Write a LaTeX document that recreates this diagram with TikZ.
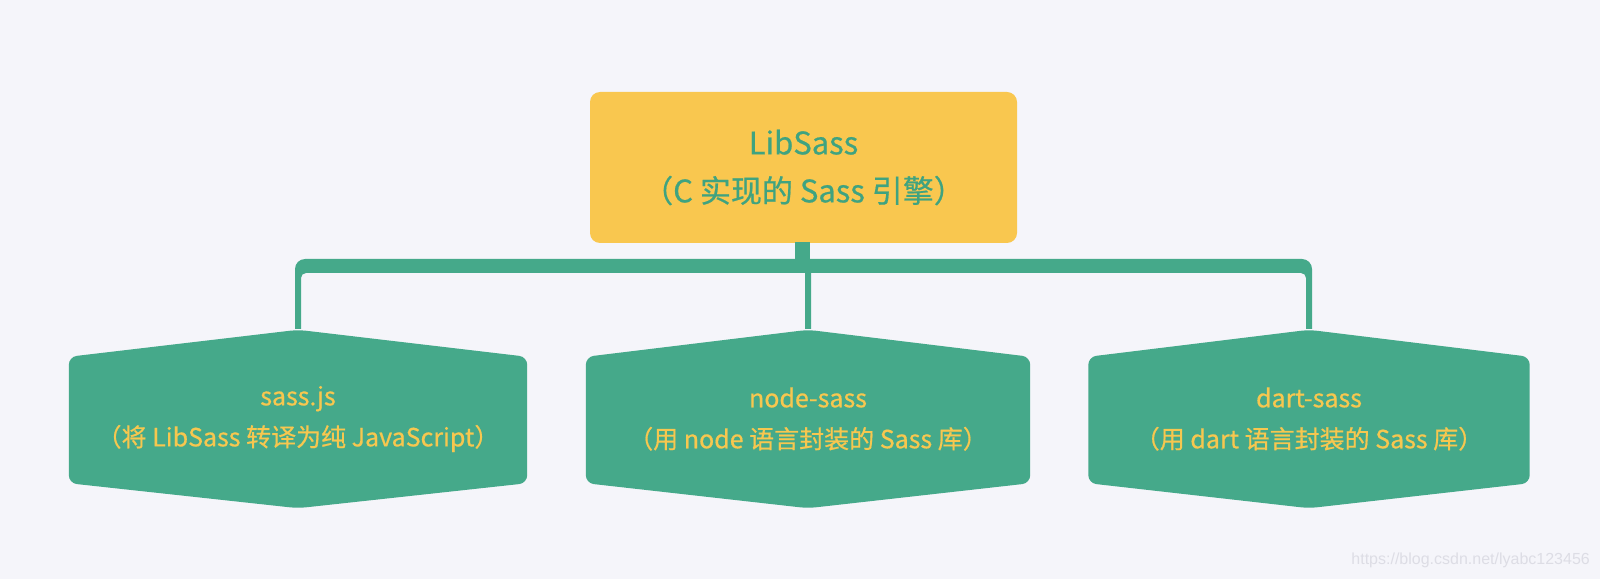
\documentclass[tikz,border=0pt]{standalone}
\usepackage{fontspec}
\setmainfont[FakeBold=0.6]{Noto Sans CJK SC}
\newfontfamily\wmfont{Liberation Sans}
\usetikzlibrary{calc,backgrounds}
\definecolor{bgc}{HTML}{F5F5FA}
\definecolor{gold}{HTML}{F9C74F}
\definecolor{mygreen}{HTML}{45A98A}
\definecolor{topText}{HTML}{3FA380}
\definecolor{hexText}{HTML}{F7C74F}
\definecolor{wm}{HTML}{DDDDE5}
\begin{document}
\begin{tikzpicture}[x=1pt,y=1pt,
  topbox/.style={fill=gold, rounded corners=10pt, minimum width=427pt, minimum height=151pt, inner sep=0pt, align=center, text=topText, font=\fontsize{31}{48}\selectfont},
  hexnode/.style={minimum height=178pt, inner sep=0pt, align=center, text=hexText, font=\fontsize{25}{41}\selectfont},
  hexshape/.style={fill=mygreen, rounded corners=8pt},
  conn/.style={fill=mygreen}]
\useasboundingbox (0,0) rectangle (1600,579);
\node[topbox] (lib) at (803.5,411.5) {LibSass\\（C 实现的 Sass 引擎）};
\node[hexnode, minimum width=458pt] (h1) at (298,160) {sass.js\\（将 LibSass 转译为纯 JavaScript）};
\node[hexnode, minimum width=444pt] (h2) at (808,160) {node-sass\\（用 node 语言封装的 Sass 库）};
\node[hexnode, minimum width=441pt] (h3) at (1309,160) {dart-sass\\（用 dart 语言封装的 Sass 库）};
\begin{scope}[on background layer]
  \fill[bgc] (0,0) rectangle (1600,579);
  \foreach \h in {h1,h2,h3}{
    \fill[hexshape] (\h.north) -- ($(\h.north east)+(0,-27)$) -- ($(\h.south east)+(0,25)$) -- (\h.south) -- ($(\h.south west)+(0,25)$) -- ($(\h.north west)+(0,-27)$) -- cycle;
  }
\end{scope}
\coordinate (bt) at (0,320);
\coordinate (bb) at (0,306);
% stem from LibSass down to the bar
\fill[conn] ($(lib.south)+(-8.5,1)$) rectangle ($(lib.south)+(6.5,-18)$);
% bracket connecting to the three children
\fill[conn] ($(h1.north)+(-3,1)$) -- ($(h1.north|-bt)+(-3,-10)$) arc[start angle=180,end angle=90,radius=10]
  -- ($(h3.north|-bt)+(-7,0)$) arc[start angle=90,end angle=0,radius=10]
  -- ($(h3.north)+(3,1)$) -- ($(h3.north)+(-3,1)$)
  -- ($(h3.north|-bb)+(-3,-5)$) arc[start angle=0,end angle=90,radius=5]
  -- ($(h2.north|-bb)+(3,0)$) -- ($(h2.north)+(3,1)$) -- ($(h2.north)+(-3,1)$)
  -- ($(h2.north|-bb)+(-3,0)$) -- ($(h1.north|-bb)+(8,0)$) arc[start angle=90,end angle=180,radius=5]
  -- ($(h1.north)+(3,1)$) -- cycle;
\node[anchor=east, text=wm, font=\wmfont\fontsize{16}{16}\selectfont, inner sep=0pt] (wmk) at (1590,19) {https://blog.csdn.net/lyabc123456};
\end{tikzpicture}
\end{document}
